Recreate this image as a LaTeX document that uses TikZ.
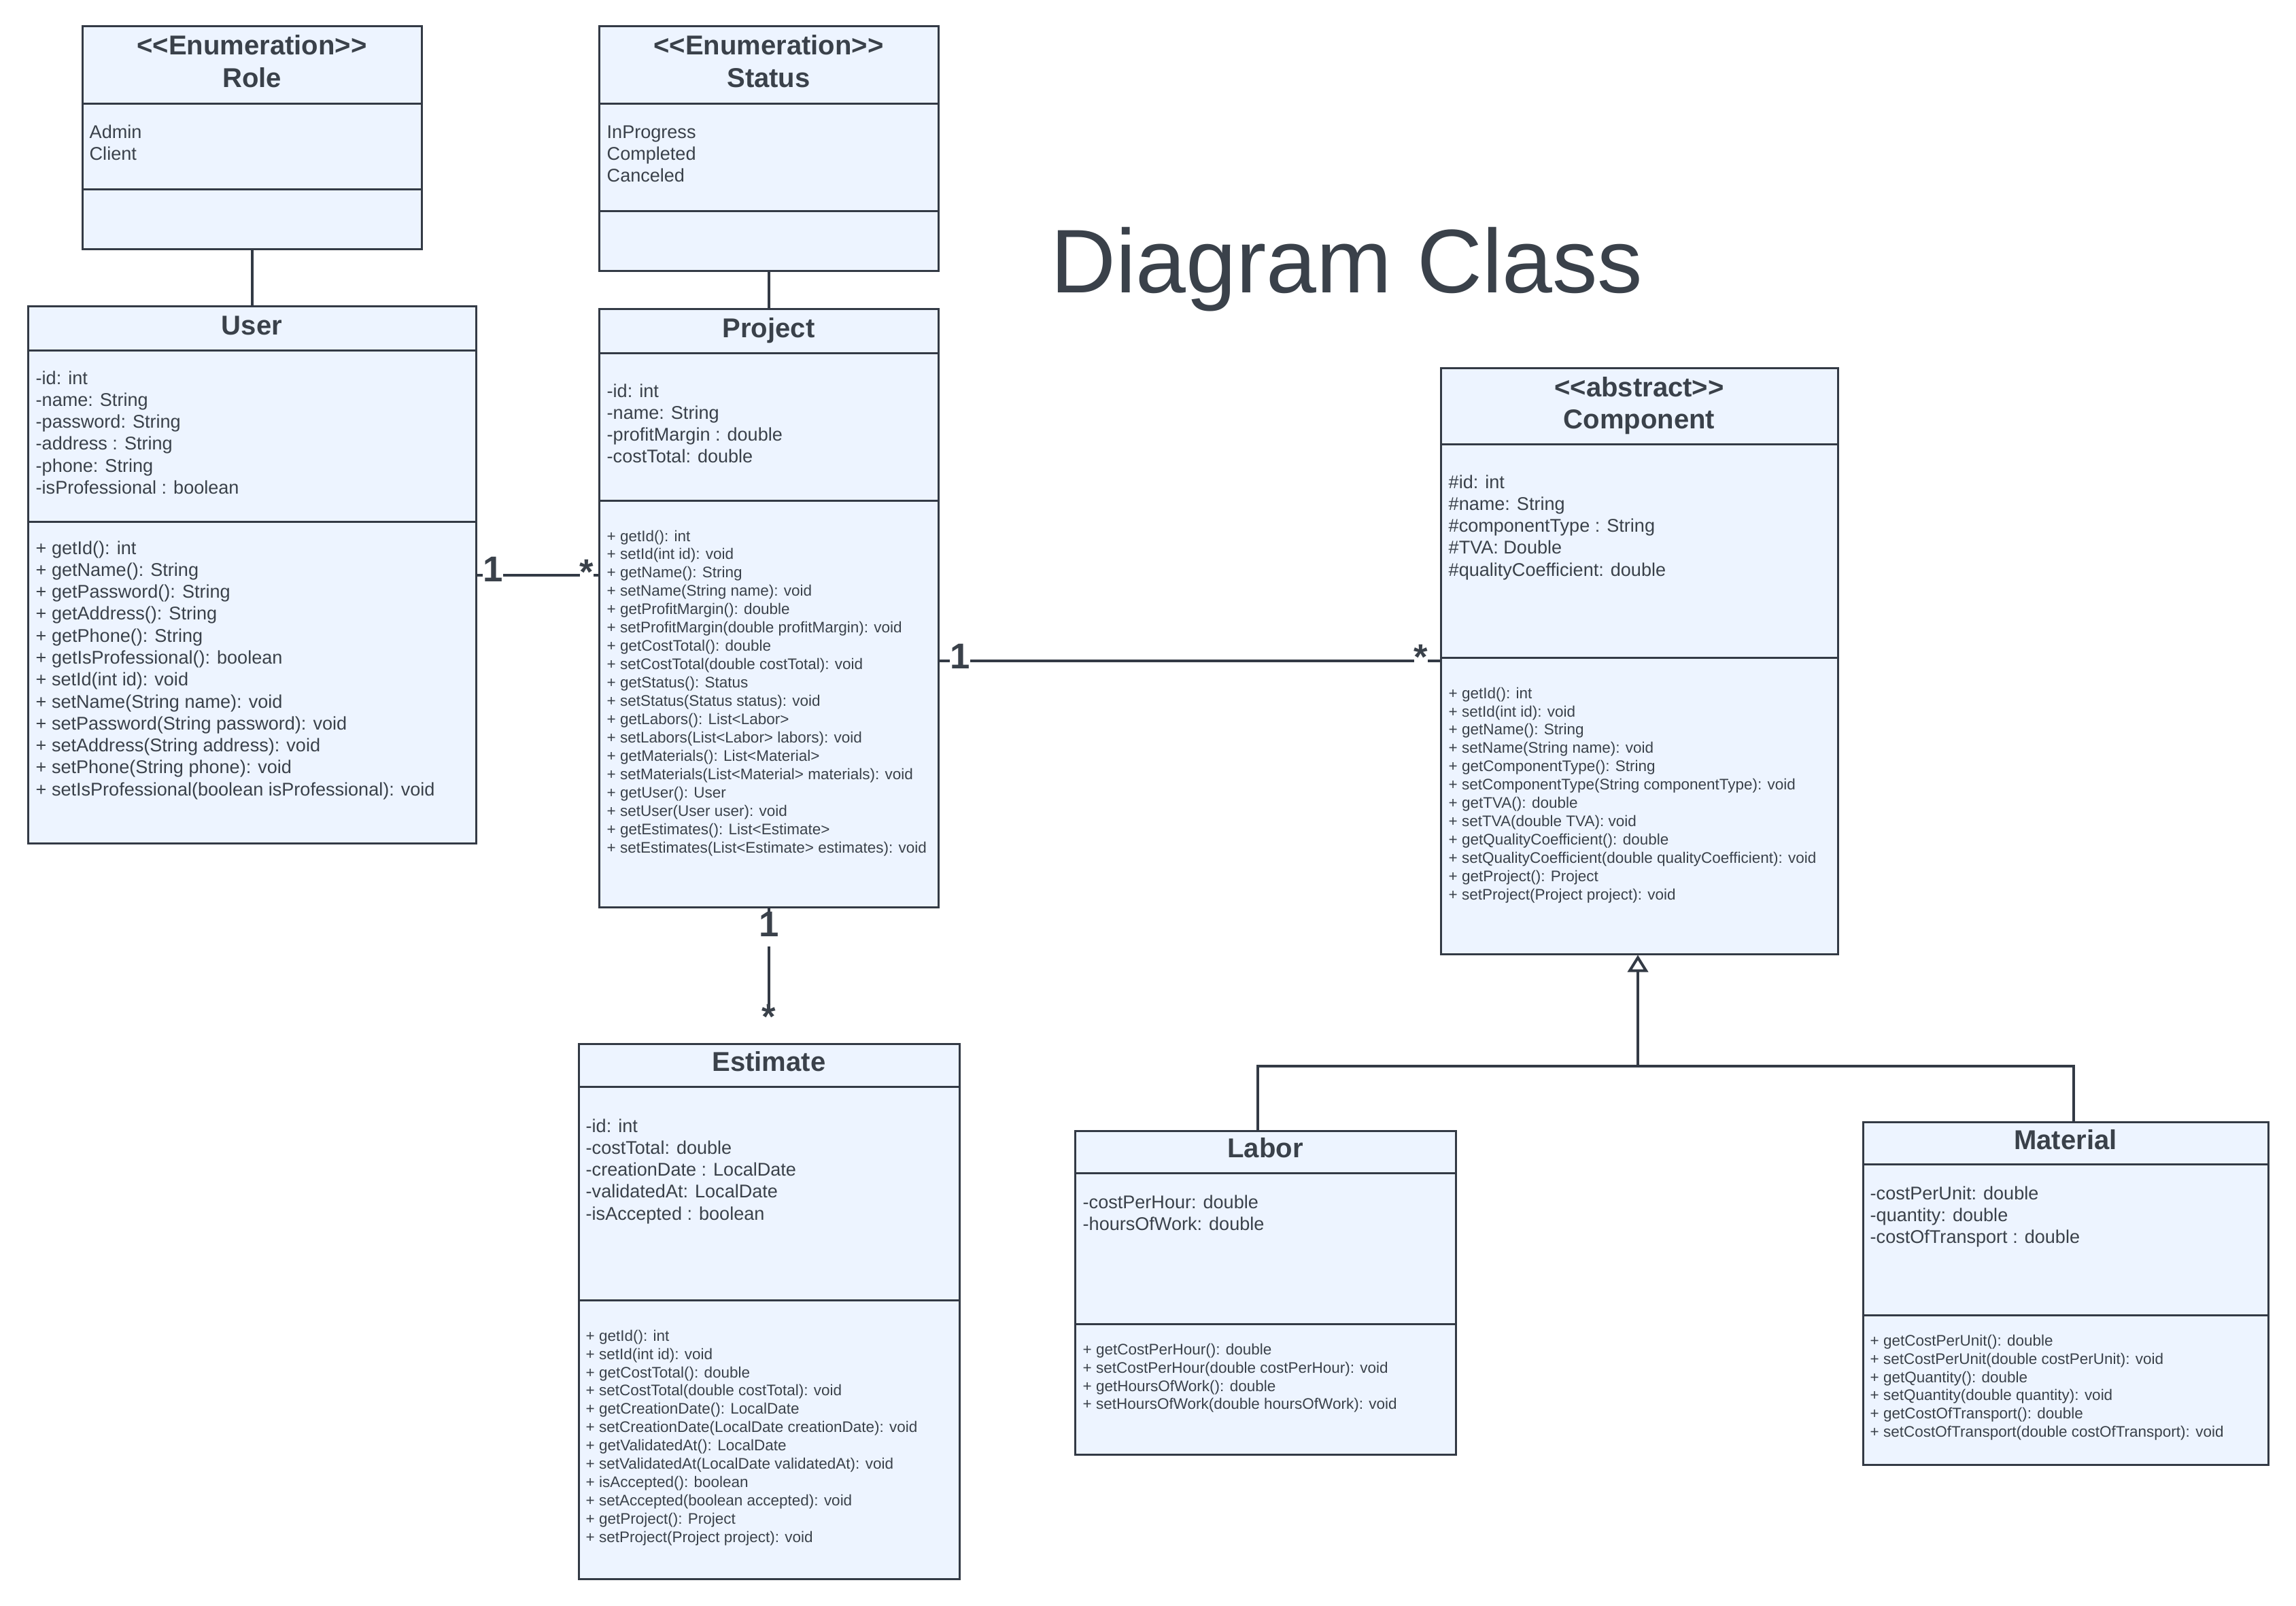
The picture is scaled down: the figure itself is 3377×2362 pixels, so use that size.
\documentclass[tikz,border=0pt]{standalone}
\usepackage{fontspec}
\setmainfont{Liberation Sans}
\usetikzlibrary{arrows.meta,fit}
\definecolor{fillc}{HTML}{EDF4FF}
\definecolor{linec}{HTML}{333A45}
\definecolor{txtc}{HTML}{3A414A}
\newcommand{\umlL}[1]{\begin{tabular}[t]{@{}l@{}}#1\end{tabular}}
\newcommand{\umlC}[1]{\begin{tabular}[t]{@{}c@{}}#1\end{tabular}}
\tikzset{
  classbox/.style={draw=linec, fill=fillc, line width=0.3mm, inner sep=0pt},
  divider/.style={draw=linec, line width=0.3mm},
  conn/.style={draw=linec, line width=0.4mm},
  hdr/.style={text=txtc, font=\bfseries\fontsize{11.4}{13.4}\selectfont, inner sep=0pt, anchor=base},
  attr/.style={text=txtc, font=\fontsize{7.7}{9.19}\selectfont, inner sep=0pt, anchor=base west},
  meth/.style={text=txtc, font=\fontsize{6.4}{7.68}\selectfont, inner sep=0pt, anchor=base west},
  mult/.style={text=txtc, font=\bfseries\fontsize{15}{18}\selectfont, fill=white, inner sep=0pt, text height=0.8em, text depth=0.2em, anchor=base},
}
\begin{document}
\begin{tikzpicture}[x=0.1mm,y=-0.1mm]
\useasboundingbox (0,0) rectangle (3377,2362);
\fill[white] (0,0) rectangle (3377,2362);

% title
\node[text=txtc, font=\fontsize{37.8}{45}\selectfont, anchor=base, inner sep=0pt] (title) at (1981,430) {Diagram Class};

% ---------- boxes ----------
\node[classbox, fit={(121,39)(620,366)}] (role) {};
\draw[divider] (121,153) -- (620,153);
\draw[divider] (121,278) -- (620,278);
\node[hdr] (roleH) at (370.5,81) {\umlC{<{}<Enumeration>{}>\\Role}};
\node[attr] (roleA) at (131,203) {\umlL{Admin\\Client}};

\node[classbox, fit={(881,39)(1380,398)}] (status) {};
\draw[divider] (881,153) -- (1380,153);
\draw[divider] (881,310) -- (1380,310);
\node[hdr] (statusH) at (1130.5,81) {\umlC{<{}<Enumeration>{}>\\Status}};
\node[attr] (statusA) at (892,203) {\umlL{InProgress\\Completed\\Canceled}};

\node[classbox, fit={(41,450)(700,1240)}] (user) {};
\draw[divider] (41,515) -- (700,515);
\draw[divider] (41,767) -- (700,767);
\node[hdr] (userH) at (370.5,492) {User};
\node[attr] (userA) at (52,565) {\umlL{-id: int\\-name: String\\-password: String\\-address : String\\-phone: String\\-isProfessional : boolean}};
\node[attr] (userM) at (52,815) {\umlL{+ getId(): int\\+ getName(): String\\+ getPassword(): String\\+ getAddress(): String\\+ getPhone(): String\\+ getIsProfessional(): boolean\\+ setId(int id): void\\+ setName(String name): void\\+ setPassword(String password): void\\+ setAddress(String address): void\\+ setPhone(String phone): void\\+ setIsProfessional(boolean isProfessional): void}};

\node[classbox, fit={(881,454)(1380,1334)}] (project) {};
\draw[divider] (881,519) -- (1380,519);
\draw[divider] (881,736) -- (1380,736);
\node[hdr] (projectH) at (1130.5,496) {Project};
\node[attr] (projectA) at (892,584) {\umlL{-id: int\\-name: String\\-profitMargin : double\\-costTotal: double}};
\node[meth] (projectM) at (892,796) {\umlL{+ getId(): int\\+ setId(int id): void\\+ getName(): String\\+ setName(String name): void\\+ getProfitMargin(): double\\+ setProfitMargin(double profitMargin): void\\+ getCostTotal(): double\\+ setCostTotal(double costTotal): void\\+ getStatus(): Status\\+ setStatus(Status status): void\\+ getLabors(): List<Labor>\\+ setLabors(List<Labor> labors): void\\+ getMaterials(): List<Material>\\+ setMaterials(List<Material> materials): void\\+ getUser(): User\\+ setUser(User user): void\\+ getEstimates(): List<Estimate>\\+ setEstimates(List<Estimate> estimates): void}};

\node[classbox, fit={(2119,541)(2703,1403)}] (component) {};
\draw[divider] (2119,653) -- (2703,653);
\draw[divider] (2119,967) -- (2703,967);
\node[hdr] (componentH) at (2411,583) {\umlC{<{}<abstract>{}>\\Component}};
\node[attr] (componentA) at (2130,718) {\umlL{\#id: int\\\#name: String\\\#componentType : String\\\#TVA: Double\\\#qualityCoefficient: double}};
\node[meth] (componentM) at (2130,1027) {\umlL{+ getId(): int\\+ setId(int id): void\\+ getName(): String\\+ setName(String name): void\\+ getComponentType(): String\\+ setComponentType(String componentType): void\\+ getTVA(): double\\+ setTVA(double TVA): void\\+ getQualityCoefficient(): double\\+ setQualityCoefficient(double qualityCoefficient): void\\+ getProject(): Project\\+ setProject(Project project): void}};

\node[classbox, fit={(851,1535)(1411,2322)}] (estimate) {};
\draw[divider] (851,1598) -- (1411,1598);
\draw[divider] (851,1912) -- (1411,1912);
\node[hdr] (estimateH) at (1131,1575) {Estimate};
\node[attr] (estimateA) at (861,1665) {\umlL{-id: int\\-costTotal: double\\-creationDate : LocalDate\\-validatedAt: LocalDate\\-isAccepted : boolean}};
\node[meth] (estimateM) at (861,1972) {\umlL{+ getId(): int\\+ setId(int id): void\\+ getCostTotal(): double\\+ setCostTotal(double costTotal): void\\+ getCreationDate(): LocalDate\\+ setCreationDate(LocalDate creationDate): void\\+ getValidatedAt(): LocalDate\\+ setValidatedAt(LocalDate validatedAt): void\\+ isAccepted(): boolean\\+ setAccepted(boolean accepted): void\\+ getProject(): Project\\+ setProject(Project project): void}};

\node[classbox, fit={(1581,1663)(2141,2139)}] (labor) {};
\draw[divider] (1581,1725) -- (2141,1725);
\draw[divider] (1581,1947) -- (2141,1947);
\node[hdr] (laborH) at (1861,1702) {Labor};
\node[attr] (laborA) at (1592,1777) {\umlL{-costPerHour: double\\-hoursOfWork: double}};
\node[meth] (laborM) at (1592,1992) {\umlL{+ getCostPerHour(): double\\+ setCostPerHour(double costPerHour): void\\+ getHoursOfWork(): double\\+ setHoursOfWork(double hoursOfWork): void}};

\node[classbox, fit={(2740,1650)(3336,2154)}] (material) {};
\draw[divider] (2740,1712) -- (3336,1712);
\draw[divider] (2740,1934) -- (3336,1934);
\node[hdr] (materialH) at (3038,1690) {Material};
\node[attr] (materialA) at (2750,1764) {\umlL{-costPerUnit: double\\-quantity: double\\-costOfTransport : double}};
\node[meth] (materialM) at (2750,1979) {\umlL{+ getCostPerUnit(): double\\+ setCostPerUnit(double costPerUnit): void\\+ getQuantity(): double\\+ setQuantity(double quantity): void\\+ getCostOfTransport(): double\\+ setCostOfTransport(double costOfTransport): void}};

% ---------- connectors ----------
\draw[conn] (role.south) -- (user.north);
\draw[conn] (status.south) -- (project.north);

\coordinate (up) at (0,846);
\draw[conn] (user.east |- up) -- (project.west |- up);
\node[mult] (m1) at (725,855) {1};
\node[mult] (m2) at (863,859) {*};

\coordinate (pc) at (0,972);
\draw[conn] (project.east |- pc) -- (component.west |- pc);
\node[mult] (m3) at (1412,983) {1};
\node[mult] (m4) at (2090,984) {*};

\draw[conn, shorten >=2.5mm] (project.south) -- (project.south |- estimate.north);
\node[mult, text depth=0.42em] (m5) at (1131,1377) {1};
\node[mult] (m6) at (1131,1513) {*};

\coordinate (jL) at (1850,1568);
\coordinate (jC) at (2409,1568);
\coordinate (jM) at (3050,1568);
\draw[conn] (jL |- labor.north) -- (jL) -- (jM) -- (jM |- material.north);
\draw[conn, -{Triangle[open, length=2.5mm, width=3mm, line width=0.4mm]}] (jC) -- (jC |- component.south);
\end{tikzpicture}
\end{document}
